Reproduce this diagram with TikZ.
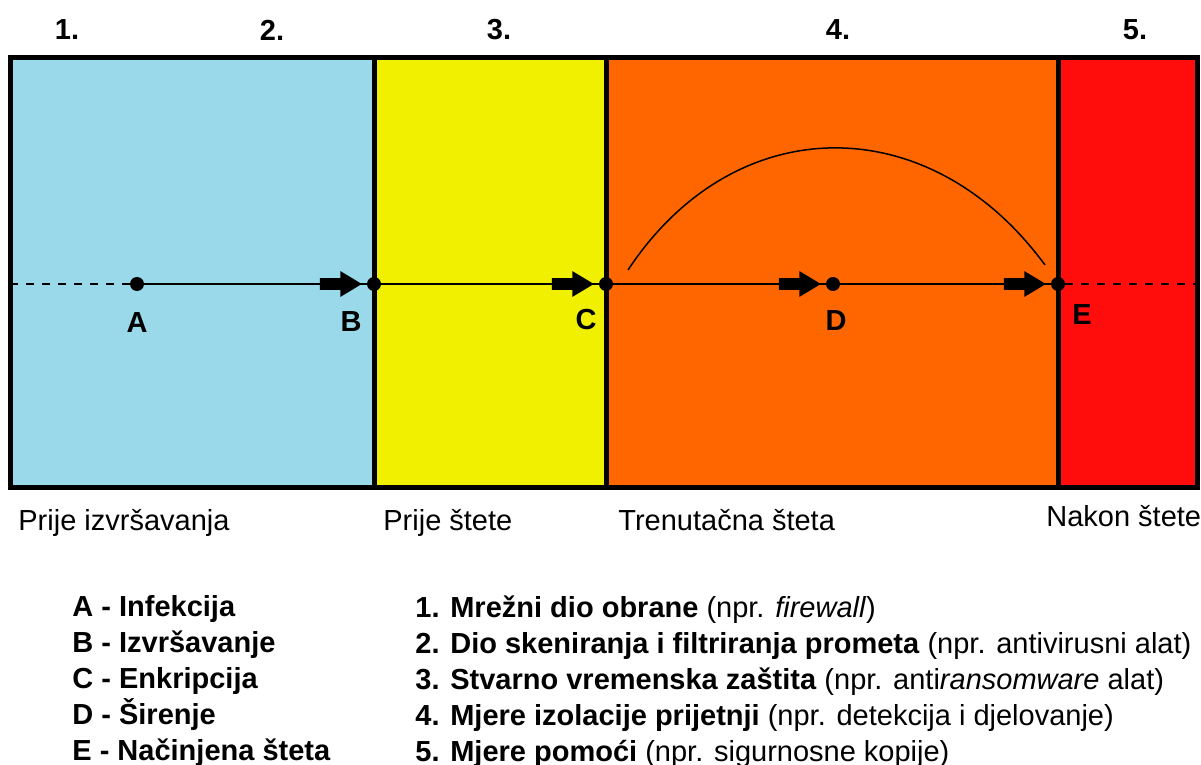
\documentclass[tikz,border=0pt]{standalone}
\usepackage{fontspec}
\setmainfont{Liberation Sans}
\usetikzlibrary{positioning,shapes.arrows}

\definecolor{zoneblue}{RGB}{153,217,234}
\definecolor{zoneyellow}{RGB}{240,240,0}
\definecolor{zoneorange}{RGB}{255,102,0}
\definecolor{zonered}{RGB}{255,12,12}

\newcommand{\txtsize}{\fontsize{14.5}{17}\selectfont}

\tikzset{
  dot/.style={circle,fill=black,inner sep=0pt,minimum size=7pt},
  ptname/.style={font=\txtsize\bfseries,inner sep=0pt},
  phase/.style={font=\txtsize,inner sep=0pt,anchor=base west},
  legend/.style={font=\txtsize,inner sep=0pt,anchor=base west},
  fatarrow/.style={single arrow,fill=black,inner xsep=0pt,inner ysep=2.75pt,
    minimum height=21pt,single arrow head extend=3.5pt,single arrow tip angle=62},
  frame/.style={line width=2.5pt}
}

\begin{document}
\begin{tikzpicture}[x=0.5pt,y=-0.5pt]
\useasboundingbox (0,0) rectangle (1201,765);

% zones
\fill[zoneblue]   (10,58) rectangle (374,487);
\fill[zoneyellow] (374,58) rectangle (606,487);
\fill[zoneorange] (606,58) rectangle (1058,487);
\fill[zonered]    (1058,58) rectangle (1197,487);
\draw[frame] (10,58) rectangle (1197,487);
\foreach \x in {374,606,1058}
  \draw[frame] (\x,58) -- (\x,487);

% numbers above
\node[ptname] (n1) at (67,30)   {1.};
\node[ptname] (n2) at (272,30)  {2.};
\node[ptname] (n3) at (499,30)  {3.};
\node[ptname] (n4) at (838,30)  {4.};
\node[ptname] (n5) at (1135,30) {5.};

% points on the time line
\coordinate (start) at (10,284);
\coordinate (stop)  at (1197,284);
\node[dot] (A) at (137,284)  {};
\node[dot] (B) at (374,284)  {};
\node[dot] (C) at (606,284)  {};
\node[dot] (D) at (833,284)  {};
\node[dot] (E) at (1058,284) {};

\node[ptname] (lA) at (137,323)  {A};
\node[ptname] (lB) at (351,322)  {B};
\node[ptname] (lC) at (586,320)  {C};
\node[ptname] (lD) at (836,321)  {D};
\node[ptname] (lE) at (1082,315) {E};

\node[fatarrow] (aB) [left=2pt of B] {};
\node[fatarrow] (aC) [left=2pt of C] {};
\node[fatarrow] (aD) [left=2pt of D] {};
\node[fatarrow] (aE) [left=2pt of E] {};

\draw[line width=0.75pt,dash pattern=on 4pt off 4pt] (start) -- (A);
\draw[line width=0.75pt] (A) -- (B) -- (C) -- (D) -- (E);
\draw[line width=0.75pt,dash pattern=on 4pt off 4pt] (E) -- (stop);

% spread curve
\coordinate (c1) at (628,270);
\coordinate (c2) at (1045,265);
\draw[line width=0.75pt] (c1) .. controls (735,108) and (930,108) .. (c2);

% phases below
\node[phase] (p1) at (18,530)   {Prije izvršavanja};
\node[phase] (p2) at (383,530)  {Prije štete};
\node[phase] (p3) at (618,530)  {Trenutačna šteta};
\node[phase] (p4) at (1046,526) {Nakon štete};

% legend
\node[legend,font=\txtsize\bfseries] (gA) at (72,616) {A - Infekcija};
\node[legend,font=\txtsize\bfseries] (gB) [below=18pt of gA.base west,anchor=base west] {B - Izvršavanje};
\node[legend,font=\txtsize\bfseries] (gC) [below=18pt of gB.base west,anchor=base west] {C - Enkripcija};
\node[legend,font=\txtsize\bfseries] (gD) [below=18pt of gC.base west,anchor=base west] {D - Širenje};
\node[legend,font=\txtsize\bfseries] (gE) [below=18pt of gD.base west,anchor=base west] {E - Načinjena šteta};

\node[legend] (g1) at (415,617) {\textbf{1. Mrežni dio obrane} (npr. \textit{firewall})};
\node[legend] (g2) [below=18pt of g1.base west,anchor=base west] {\textbf{2. Dio skeniranja i filtriranja prometa} (npr. antivirusni alat)};
\node[legend] (g3) [below=18pt of g2.base west,anchor=base west] {\textbf{3. Stvarno vremenska zaštita} (npr. anti\textit{ransomware} alat)};
\node[legend] (g4) [below=18pt of g3.base west,anchor=base west] {\textbf{4. Mjere izolacije prijetnji} (npr. detekcija i djelovanje)};
\node[legend] (g5) [below=18pt of g4.base west,anchor=base west] {\textbf{5. Mjere pomoći} (npr. sigurnosne kopije)};
\end{tikzpicture}
\end{document}
